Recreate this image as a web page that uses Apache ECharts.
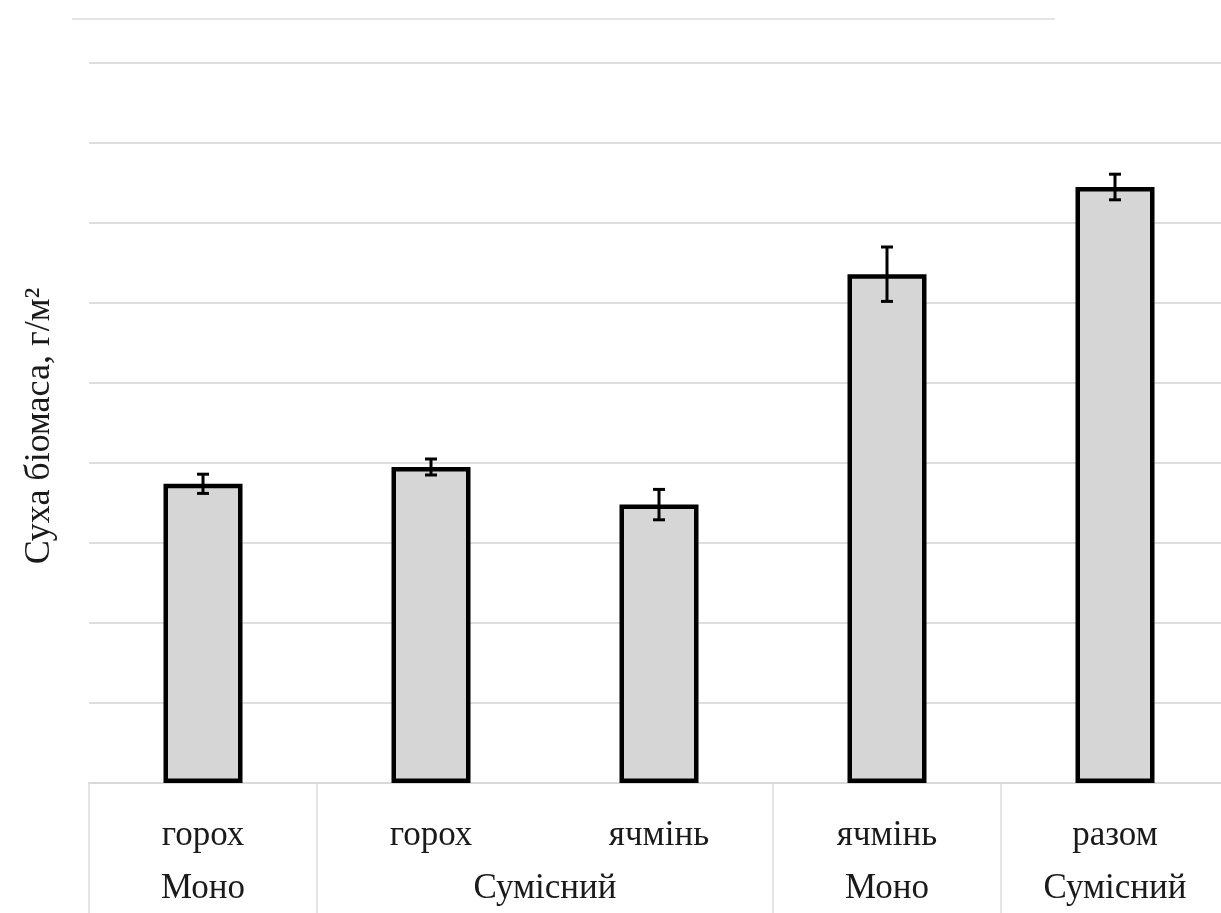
<!DOCTYPE html>
<html>
<head>
<meta charset="utf-8">
<script src="https://cdn.jsdelivr.net/npm/echarts@6/dist/echarts.min.js"></script>
<style>
  html, body { margin: 0; padding: 0; background: #ffffff; overflow: hidden; }
  #chart { width: 1234px; height: 913px; }
</style>
</head>
<body>
<div id="chart"></div>
<script>
// ---- data ----
const categories = ['горох', 'горох', 'ячмінь', 'ячмінь', 'разом'];
const values = [374, 395, 348, 636, 745];
const errors = [12, 10, 19, 34, 16];
const groupLabels = ['Моно', 'Сумісний', 'Моно', 'Сумісний'];
const groupSpans = [1, 2, 1, 1];
const yAxisTitle = 'Суха біомаса, г/м²';

// group centres (in category units) derived from spans
const groupCenters = [];
const groupStarts = [];
(function () {
  let start = 0;
  groupSpans.forEach(function (s) {
    groupStarts.push(start);
    groupCenters.push(start + s / 2);
    start += s;
  });
})();

const errData = values.map(function (v, i) { return [i, v - errors[i], v + errors[i]]; });

const chart = echarts.init(document.getElementById('chart'), null, { renderer: 'canvas' });
const FONT = 'Liberation Serif';
const FS = 35;

chart.setOption({
  backgroundColor: '#ffffff',
  animation: false,
  grid: { left: 89, right: 5, top: 63, bottom: 130, containLabel: false },
  graphic: [{
    type: 'line',
    shape: { x1: 72, y1: 19, x2: 1055, y2: 19 },
    style: { stroke: '#e6e6e6', lineWidth: 2 },
    silent: true
  }, {
    type: 'text',
    rotation: Math.PI / 2,
    x: 40, y: 426,
    style: {
      text: yAxisTitle,
      font: '36px "' + FONT + '"',
      fill: '#1a1a1a',
      textAlign: 'center',
      textVerticalAlign: 'middle'
    }
  }],
  xAxis: [{
    type: 'category',
    data: categories,
    position: 'bottom',
    axisLine: { show: true, lineStyle: { color: '#d9d9d9', width: 2 } },
    axisTick: {
      show: true,
      length: 130,
      lineStyle: { color: '#dcdcdc', width: 1.5 },
      interval: function (index) { return groupStarts.indexOf(index) !== -1; }
    },
    axisLabel: {
      interval: 0,
      margin: 35,
      fontFamily: FONT,
      fontSize: FS,
      color: '#1a1a1a'
    },
    splitLine: { show: false }
  }, {
    type: 'value',
    min: 0,
    max: categories.length,
    interval: 0.5,
    position: 'bottom',
    axisLine: { show: false },
    axisTick: { show: false },
    splitLine: { show: false },
    axisLabel: {
      margin: 88,
      fontFamily: FONT,
      fontSize: FS,
      color: '#1a1a1a',
      showMinLabel: true,
      showMaxLabel: true,
      formatter: function (v) {
        for (let i = 0; i < groupCenters.length; i++) {
          if (Math.abs(groupCenters[i] - v) < 1e-6) return groupLabels[i];
        }
        return '';
      }
    }
  }],
  yAxis: {
    type: 'value',
    min: 0,
    max: 900,
    interval: 100,
    axisLine: { show: false },
    axisTick: { show: false },
    axisLabel: { show: false },
    splitLine: { show: true, lineStyle: { color: '#dedede', width: 2 } }
  },
  series: [{
    type: 'bar',
    xAxisIndex: 0,
    data: values,
    barWidth: 79,
    itemStyle: {
      color: '#d6d6d6',
      borderColor: '#000000',
      borderWidth: 4.5
    },
    z: 2
  }, {
    type: 'custom',
    xAxisIndex: 0,
    data: errData,
    z: 5,
    renderItem: function (params, api) {
      const x = api.value(0);
      const lo = api.coord([x, api.value(1)]);
      const hi = api.coord([x, api.value(2)]);
      const hw = 6;
      const style = { stroke: '#000000', lineWidth: 3, fill: null };
      return {
        type: 'group',
        children: [
          { type: 'line', shape: { x1: lo[0], y1: lo[1], x2: hi[0], y2: hi[1] }, style: style },
          { type: 'line', shape: { x1: lo[0] - hw, y1: lo[1], x2: lo[0] + hw, y2: lo[1] }, style: style },
          { type: 'line', shape: { x1: hi[0] - hw, y1: hi[1], x2: hi[0] + hw, y2: hi[1] }, style: style }
        ]
      };
    }
  }]
});
</script>
</body>
</html>
